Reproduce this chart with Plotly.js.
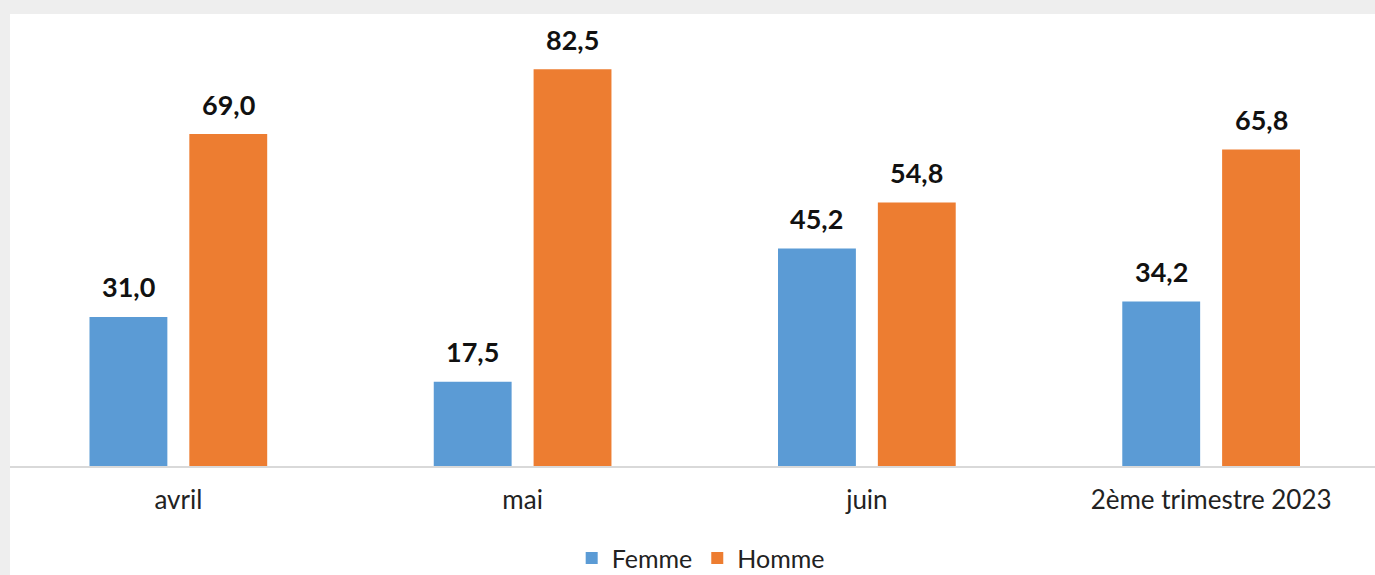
<!DOCTYPE html>
<html>
<head>
<meta charset="utf-8">
<script src="https://cdn.plot.ly/plotly-3.0.1.min.js"></script>
<style>
html,body{margin:0;padding:0;background:#eeeeee;width:1375px;height:575px;overflow:hidden;}
#chart{position:absolute;left:10px;top:14px;width:1365px;height:561px;background:#fff;}
</style>
</head>
<body>
<div id="chart"></div>
<script>
const categories = ["avril", "mai", "juin", "2ème trimestre 2023"];
const femme = [31.0, 17.5, 45.2, 34.2];
const homme = [69.0, 82.5, 54.8, 65.8];
const seriesNames = ["Femme", "Homme"];
const colors = ["#5b9bd5", "#ed7d31"];

const W = 1365, H = 561;
const margin = {l: 0, r: 0, t: 22, b: 109, autoexpand: false};
const bargap = 0.42, bargroupgap = 0.22;
const xRange = [-0.489, 3.476];
const catWidth = (W - margin.l - margin.r) / (xRange[1] - xRange[0]);
const offset = (1 - bargap) / 4 * catWidth;

const traces = [femme, homme].map((vals, i) => ({
  type: "bar",
  name: seriesNames[i],
  x: categories,
  y: vals,
  marker: {color: colors[i]},
  hoverinfo: "none"
}));

const fmt = v => v.toFixed(1).replace(".", ",");
const annotations = [];
[femme, homme].forEach((vals, i) => {
  vals.forEach((v, j) => {
    annotations.push({
      x: categories[j], y: v, xref: "x", yref: "y",
      text: fmt(v), showarrow: false,
      xshift: (i === 0 ? -1 : 1) * offset, yshift: 30,
      yanchor: "middle",
      font: {family: "Lato", size: 27, color: "#111", weight: "bold"}
    });
  });
});

const layout = {
  width: W, height: H,
  margin: margin,
  paper_bgcolor: "#ffffff",
  plot_bgcolor: "#ffffff",
  barmode: "group",
  bargap: bargap,
  bargroupgap: bargroupgap,
  separators: ", ",
  showlegend: true,
  legend: {
    orientation: "h", x: 0.506, xanchor: "center",
    yref: "container", y: 0.03, yanchor: "middle",
    font: {family: "Lato", size: 25, color: "#222"},
    itemwidth: 30, traceorder: "normal"
  },
  xaxis: {
    type: "category", automargin: false, range: xRange,
    showline: true, linecolor: "#d9d9d9", linewidth: 2,
    ticks: "", ticklabelstandoff: 10,
    tickfont: {family: "Lato", size: 26, color: "#222"},
    showgrid: false, zeroline: false, fixedrange: true
  },
  yaxis: {
    range: [0, 89.4], visible: false, showgrid: false, zeroline: false, fixedrange: true
  },
  annotations: annotations
};

Plotly.newPlot("chart", traces, layout, {displayModeBar: false, staticPlot: true});
</script>
</body>
</html>
